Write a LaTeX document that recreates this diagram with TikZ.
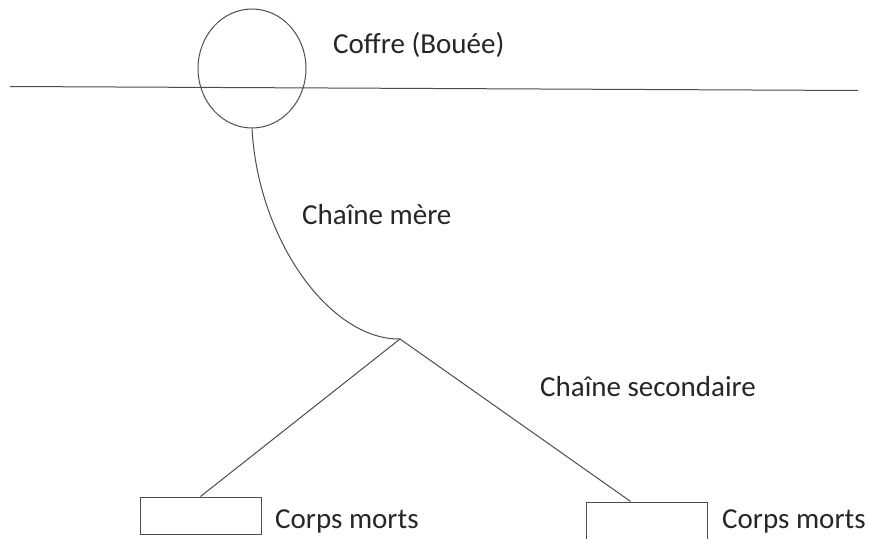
\documentclass[tikz,border=0pt]{standalone}
\usepackage{fontspec}
\setmainfont{Carlito}
\usetikzlibrary{shapes.geometric,calc}
\begin{document}
\begin{tikzpicture}[x=1pt,y=-1pt,
  ln/.style={draw=black!70,line width=1pt},
  lbl/.style={anchor=base west,inner sep=0pt,font=\fontsize{29}{33}\selectfont,text=black!85},
  block/.style={ln,rectangle,minimum width=121pt,minimum height=37pt,inner sep=0pt,fill=white}]
\useasboundingbox (0,0) rectangle (869,538);
\clip (0,0) rectangle (869,538);
\draw[ln] (10,86.5) coordinate (sl) -- (858,90.5) coordinate (sr);
\node[ln,ellipse,minimum width=108pt,minimum height=119pt,inner sep=0pt] (buoy) at (252,68.5) {};
\coordinate (junc) at (400,339);
\draw[ln] (buoy.south) .. controls (258,240) and (330,340) .. (junc);
\node[block] (lbox) at (200.5,515.5) {};
\node[block] (rbox) at (646.5,520.5) {};
\draw[ln] (junc) -- (lbox.north);
\draw[ln] (junc) -- ($(rbox.north west)!0.37!(rbox.north east)$);
\node[lbl] (t1) at (333,53) {Coffre (Bouée)};
\node[lbl] (t2) at (302,224) {Chaîne mère};
\node[lbl] (t3) at (540,396) {Chaîne secondaire};
\node[lbl] (t4) at (275,528) {Corps morts};
\node[lbl] (t5) at (722,528) {Corps morts};
\end{tikzpicture}
\end{document}
